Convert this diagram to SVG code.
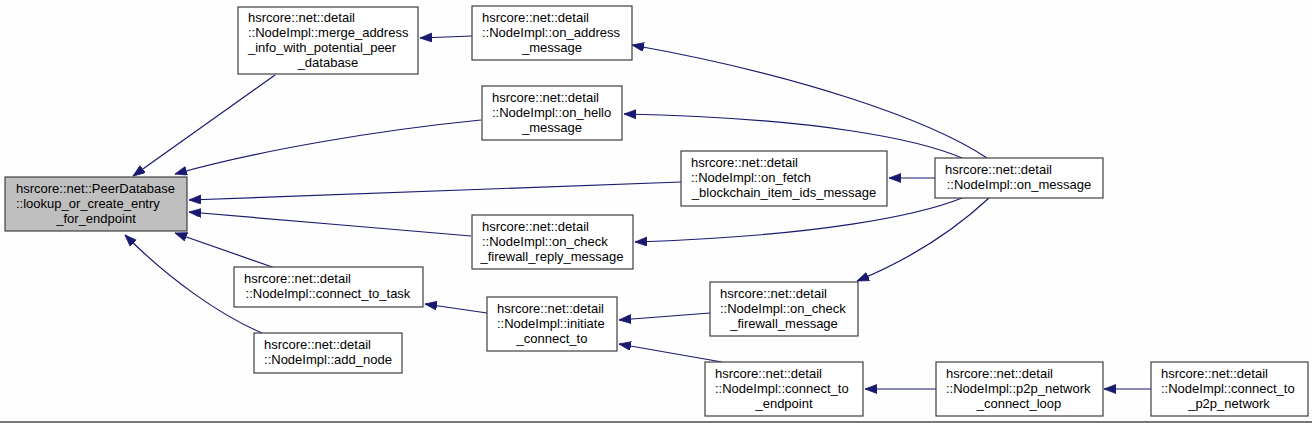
<svg xmlns="http://www.w3.org/2000/svg" width="1312" height="423" viewBox="0 0 1312 423">
<style>
.n rect{fill:#ffffff;stroke:#3f3f3f;stroke-width:1.2}
.n rect.hl{fill:#bfbfbf}
.n text{font-family:"Liberation Sans",Arial,sans-serif;font-size:13px;fill:#000}
.n text.c{text-anchor:middle}
.e path{fill:none;stroke:#191970;stroke-width:1.2;marker-end:url(#ah)}
</style>
<defs>
<marker id="ah" markerUnits="userSpaceOnUse" markerWidth="14" markerHeight="10" refX="12" refY="4.5" orient="auto">
<path d="M0,0 L12,4.5 L0,9 z" fill="#191970" stroke="#191970" stroke-width="0.8"/>
</marker>
</defs>
<rect x="0" y="0" width="1312" height="423" fill="#fdfefd"/>
<rect x="0" y="421" width="1312" height="2" fill="#777777"/>
<g class="e" id="edges">
<path d="M275,75 L133,176"/>
<path d="M481,120 C380,130 260,150 175,174"/>
<path d="M681,182 L189,200"/>
<path d="M471,236 C380,228 280,220 189,212"/>
<path d="M275,268 L175,233"/>
<path d="M262,333 C220,315 170,280 125,235"/>
<path d="M472,36 L420,38"/>
<path d="M987,158 C930,120 800,75 632,45"/>
<path d="M962,158 C920,140 820,118 624,114"/>
<path d="M935,178 L889,178"/>
<path d="M962,198 C920,215 820,236 635,242"/>
<path d="M989,198 C960,225 920,255 857,281"/>
<path d="M487,313 L425,304"/>
<path d="M710,313 L619,320"/>
<path d="M722,362 L619,344"/>
<path d="M936,389 L865,389"/>
<path d="M1151,389 L1104,389"/>
</g>
<g class="n" id="peerdb">
<rect class="hl" x="5" y="177" width="182" height="54"/>
<text x="16" y="193">hsrcore::net::PeerDatabase</text>
<text x="16" y="208">::lookup_or_create_entry</text>
<text class="c" x="96" y="223">_for_endpoint</text>
</g>
<g class="n" id="merge">
<rect x="238" y="7" width="180" height="67"/>
<text x="248" y="22">hsrcore::net::detail</text>
<text x="248" y="37">::NodeImpl::merge_address</text>
<text x="248" y="52">_info_with_potential_peer</text>
<text class="c" x="328" y="67">_database</text>
</g>
<g class="n" id="onaddress">
<rect x="472" y="6" width="160" height="54"/>
<text x="482" y="22">hsrcore::net::detail</text>
<text x="482" y="37">::NodeImpl::on_address</text>
<text class="c" x="552" y="52">_message</text>
</g>
<g class="n" id="onhello">
<rect x="482" y="86" width="140" height="54"/>
<text x="492" y="102">hsrcore::net::detail</text>
<text x="492" y="117">::NodeImpl::on_hello</text>
<text class="c" x="552" y="132">_message</text>
</g>
<g class="n" id="onfetch">
<rect x="681" y="151" width="206" height="55"/>
<text x="691" y="167">hsrcore::net::detail</text>
<text x="691" y="182">::NodeImpl::on_fetch</text>
<text class="c" x="784" y="197">_blockchain_item_ids_message</text>
</g>
<g class="n" id="onmessage">
<rect x="935" y="158" width="168" height="40"/>
<text x="945" y="174">hsrcore::net::detail</text>
<text class="c" x="1019" y="189">::NodeImpl::on_message</text>
</g>
<g class="n" id="oncheckreply">
<rect x="472" y="215" width="161" height="54"/>
<text x="482" y="231">hsrcore::net::detail</text>
<text x="482" y="246">::NodeImpl::on_check</text>
<text class="c" x="552" y="261">_firewall_reply_message</text>
</g>
<g class="n" id="connecttask">
<rect x="234" y="267" width="189" height="40"/>
<text x="244" y="283">hsrcore::net::detail</text>
<text class="c" x="328" y="298">::NodeImpl::connect_to_task</text>
</g>
<g class="n" id="addnode">
<rect x="254" y="333" width="148" height="40"/>
<text x="264" y="349">hsrcore::net::detail</text>
<text class="c" x="328" y="364">::NodeImpl::add_node</text>
</g>
<g class="n" id="initiate">
<rect x="487" y="297" width="130" height="54"/>
<text x="497" y="313">hsrcore::net::detail</text>
<text x="497" y="328">::NodeImpl::initiate</text>
<text class="c" x="552" y="343">_connect_to</text>
</g>
<g class="n" id="oncheckfw">
<rect x="710" y="282" width="148" height="54"/>
<text x="720" y="298">hsrcore::net::detail</text>
<text x="720" y="313">::NodeImpl::on_check</text>
<text class="c" x="784" y="328">_firewall_message</text>
</g>
<g class="n" id="connectendpoint">
<rect x="705" y="362" width="158" height="54"/>
<text x="715" y="378">hsrcore::net::detail</text>
<text x="715" y="393">::NodeImpl::connect_to</text>
<text class="c" x="784" y="408">_endpoint</text>
</g>
<g class="n" id="p2ploop">
<rect x="936" y="362" width="167" height="54"/>
<text x="946" y="378">hsrcore::net::detail</text>
<text x="946" y="393">::NodeImpl::p2p_network</text>
<text class="c" x="1019" y="408">_connect_loop</text>
</g>
<g class="n" id="connectp2p">
<rect x="1151" y="362" width="157" height="54"/>
<text x="1161" y="378">hsrcore::net::detail</text>
<text x="1161" y="393">::NodeImpl::connect_to</text>
<text class="c" x="1229" y="408">_p2p_network</text>
</g>
</svg>
